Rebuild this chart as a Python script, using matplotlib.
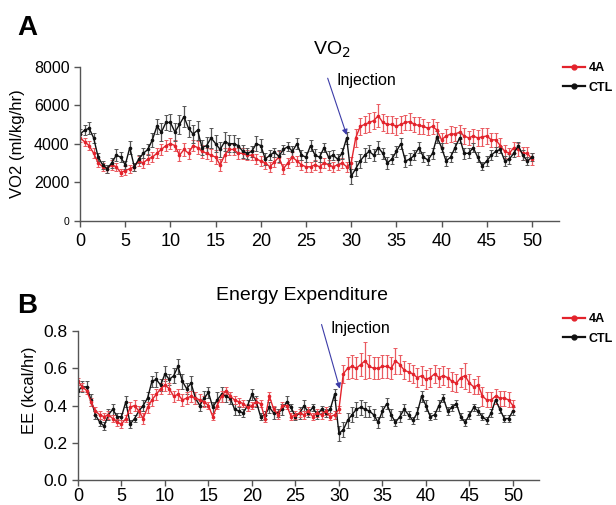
import numpy as np
import matplotlib
matplotlib.use("Agg")
import matplotlib.pyplot as plt
from matplotlib.lines import Line2D

plt.rcParams['font.family'] = ['Liberation Sans', 'DejaVu Sans']

# time axis (hours), one point every half hour
hours = np.arange(0, 50.01, 0.5)

# VO2 (ml/kg/hr), rows of 10 points = 5 h
vo2_ctl = [
    4500, 4700, 4800, 4300, 3300, 2900, 2700, 3000, 3400, 3300,
    2900, 3800, 2800, 3200, 3500, 3700, 4200, 4900, 4600, 5100,
    5100, 4600, 5000, 5400, 4800, 4500, 4700, 3800, 3900, 4300,
    4000, 3700, 4100, 4000, 4000, 3900, 3600, 3500, 3600, 4000,
    3900, 3200, 3400, 3550, 3350, 3700, 3850, 3600, 4000, 3400,
    3300, 3900, 3400, 3300, 3800, 3300, 3400, 3200, 3500, 4300,
    2300, 2700, 3100, 3400, 3600, 3400, 3800, 3500, 3000, 3200,
    3600, 4000, 3100, 3200, 3400, 3800, 3300, 3150, 3500, 4350,
    3800, 3100, 3300, 3800, 4300, 3500, 3500, 3800, 3300, 2850,
    3100, 3400, 3600, 3700, 3100, 3200, 3500, 3900, 3400, 3100,
    3300]
vo2_ctl_err = [
    250, 250, 300, 250, 200, 200, 200, 250, 300, 250,
    200, 350, 200, 200, 250, 300, 350, 400, 450, 400,
    450, 450, 500, 550, 450, 450, 500, 400, 450, 500,
    450, 400, 500, 450, 450, 400, 350, 300, 300, 400,
    350, 300, 250, 250, 300, 250, 250, 300, 300, 250,
    250, 300, 300, 250, 250, 300, 250, 250, 300, 300,
    400, 400, 350, 350, 350, 300, 350, 300, 300, 250,
    300, 300, 300, 300, 250, 300, 250, 250, 300, 300,
    250, 250, 250, 250, 250, 300, 250, 250, 250, 200,
    250, 250, 250, 200, 250, 250, 200, 200, 250, 200,
    200]
vo2_4a = [
    4300, 4100, 3900, 3500, 3000, 2800, 2700, 2900, 2800, 2500,
    2600, 2700, 2800, 3100, 3000, 3200, 3300, 3500, 3700, 3900,
    4000, 3900, 3400, 3700, 3500, 3900, 3800, 3600, 3500, 3400,
    3300, 2900, 3400, 3700, 3700, 3500, 3500, 3400, 3400, 3200,
    3100, 3000, 2800, 3050, 3300, 2700, 3000, 3300, 3100, 2900,
    2800, 2800, 2900, 2800, 3000, 2900, 2800, 2900, 3000, 2800,
    3000, 4300, 4900, 5000, 5100, 5200, 5450, 5100, 5000, 5000,
    4900, 5000, 5100, 5150, 5000, 4950, 4900, 4800, 4900, 4700,
    4200, 4400, 4500, 4500, 4600, 4400, 4300, 4400, 4300, 4350,
    4400, 4200, 4200, 3900, 3600, 3500, 3800, 3700, 3500, 3500,
    3200]
vo2_4a_err = [
    200, 200, 250, 250, 200, 200, 200, 250, 200, 200,
    250, 200, 200, 250, 250, 250, 250, 250, 300, 300,
    300, 300, 300, 350, 300, 300, 350, 350, 300, 300,
    350, 300, 350, 300, 300, 300, 300, 250, 250, 250,
    250, 300, 250, 250, 300, 250, 250, 250, 250, 250,
    250, 250, 250, 250, 250, 250, 250, 250, 250, 250,
    300, 450, 450, 450, 500, 450, 600, 450, 450, 450,
    450, 450, 400, 450, 400, 450, 400, 350, 400, 400,
    350, 350, 400, 350, 350, 400, 350, 350, 400, 450,
    400, 350, 350, 400, 350, 300, 300, 350, 350, 350,
    300]

# energy expenditure (kcal/hr)
ee_ctl = [
    .48, .50, .50, .43, .35, .31, .29, .35, .38, .34,
    .34, .42, .30, .33, .37, .40, .44, .53, .54, .51,
    .57, .54, .56, .61, .53, .49, .52, .44, .40, .44,
    .47, .39, .43, .46, .45, .44, .38, .37, .36, .40,
    .46, .42, .34, .35, .39, .36, .36, .38, .42, .39,
    .34, .36, .40, .36, .39, .35, .38, .36, .38, .46,
    .25, .27, .32, .35, .38, .39, .38, .37, .35, .31,
    .37, .41, .35, .31, .34, .38, .35, .32, .36, .45,
    .40, .34, .35, .40, .44, .37, .39, .41, .34, .31,
    .35, .39, .37, .34, .32, .36, .43, .38, .33, .33,
    .37]
ee_ctl_err = [
    .03, .03, .03, .03, .02, .02, .02, .03, .03, .02,
    .02, .03, .02, .02, .03, .03, .03, .03, .04, .03,
    .04, .03, .04, .04, .04, .03, .04, .03, .03, .04,
    .03, .03, .04, .04, .03, .03, .03, .02, .02, .03,
    .03, .03, .02, .02, .03, .03, .02, .03, .03, .02,
    .02, .03, .03, .02, .02, .02, .02, .02, .02, .03,
    .04, .04, .04, .04, .04, .04, .04, .03, .03, .03,
    .03, .03, .03, .02, .03, .03, .02, .02, .03, .03,
    .03, .02, .02, .03, .02, .02, .02, .02, .02, .02,
    .02, .02, .02, .02, .02, .02, .02, .02, .02, .02,
    .02]
ee_4a = [
    .53, .50, .48, .42, .37, .35, .34, .35, .33, .31,
    .30, .33, .39, .40, .37, .33, .39, .43, .46, .49,
    .51, .49, .45, .46, .43, .44, .45, .44, .43, .42,
    .40, .34, .40, .45, .48, .45, .43, .42, .41, .39,
    .40, .42, .41, .33, .45, .38, .35, .40, .40, .34,
    .35, .36, .35, .37, .34, .36, .35, .37, .34, .35,
    .38, .57, .60, .61, .60, .62, .64, .61, .60, .60,
    .61, .61, .60, .64, .62, .59, .58, .57, .55, .56,
    .54, .55, .57, .55, .56, .55, .53, .52, .55, .56,
    .52, .50, .51, .45, .43, .43, .45, .44, .44, .43,
    .40]
ee_4a_err = [
    .02, .02, .02, .02, .02, .02, .02, .02, .02, .02,
    .02, .02, .03, .03, .03, .03, .03, .03, .03, .03,
    .03, .03, .03, .03, .03, .03, .03, .03, .03, .03,
    .02, .02, .02, .03, .02, .02, .02, .02, .02, .02,
    .02, .02, .02, .02, .02, .02, .02, .02, .02, .02,
    .02, .02, .02, .02, .02, .02, .02, .02, .02, .02,
    .02, .05, .06, .06, .06, .06, .10, .06, .06, .06,
    .06, .06, .06, .07, .05, .05, .05, .05, .05, .05,
    .05, .05, .05, .05, .05, .05, .05, .05, .05, .07,
    .05, .04, .05, .05, .04, .04, .04, .04, .04, .04,
    .03]

xticks = [0, 5, 10, 15, 20, 25, 30, 35, 40, 45, 50]
vo2_ticks = [0, 2000, 4000, 6000, 8000]
ee_ticks = [0.0, 0.2, 0.4, 0.6, 0.8]
ee_ticklabels = ['0.0', '0.2', '0.4', '0.6', '0.8']

RED = '#e3232c'
BLACK = '#111111'
AXCOL = '#555555'


def draw_series(ax, y, err, color, ecolor):
    ax.errorbar(hours, y, yerr=err, color=color, ecolor=ecolor,
                elinewidth=0.9, capsize=1.3, capthick=0.7,
                marker='o', markersize=1.6, linewidth=1.0)


def style_axes(ax, xpad):
    for side in ['top', 'right']:
        ax.spines[side].set_visible(False)
    for side in ['left', 'bottom']:
        ax.spines[side].set_color(AXCOL)
        ax.spines[side].set_linewidth(1.0)
    ax.tick_params(direction='out', length=4, width=1.0, color=AXCOL)
    ax.tick_params(axis='x', labelsize=13, pad=xpad)
    ax.set_xlim(0, 53)
    ax.set_xticks(xticks)


def add_legend(ax, top):
    handles = [Line2D([], [], color=RED, marker='o', markersize=3.5, lw=1.6),
               Line2D([], [], color=BLACK, marker='o', markersize=3.5, lw=1.6)]
    ax.legend(handles, ['4A', 'CTL'], loc='upper left',
              bbox_to_anchor=(0.914, top), bbox_transform=ax.figure.transFigure,
              frameon=False, borderpad=0, borderaxespad=0, handlelength=1.75,
              handletextpad=0.3, labelspacing=0.6,
              prop={'weight': 'bold', 'size': 9})


fig = plt.figure(figsize=(6.16, 5.05), dpi=100)

# panel A - VO2
ax1 = fig.add_axes([0.13, 0.563, 0.7775, 0.305])
draw_series(ax1, vo2_4a, vo2_4a_err, RED, '#ea5a60')
draw_series(ax1, vo2_ctl, vo2_ctl_err, BLACK, '#555555')
style_axes(ax1, 5)
ax1.set_ylim(0, 8000)
ax1.set_yticks(vo2_ticks)
ax1.tick_params(axis='y', labelsize=11.5)
ax1.get_yticklabels()[0].set_fontsize(7.5)
ax1.set_ylabel('VO2 (ml/kg/hr)', fontsize=12)
ax1.yaxis.set_label_coords(-0.115, 0.5)
ax1.annotate('', xy=(29.5, 4450), xytext=(27.4, 7400), annotation_clip=False,
             arrowprops=dict(arrowstyle='-|>', color='#3c3ca8', lw=0.8,
                             mutation_scale=8, shrinkA=0, shrinkB=0))
ax1.text(28.4, 7300, 'Injection', fontsize=11.5, va='center', ha='left')
add_legend(ax1, 0.877)

# panel B - energy expenditure
ax2 = fig.add_axes([0.1266, 0.0495, 0.7484, 0.295])
draw_series(ax2, ee_ctl, ee_ctl_err, BLACK, '#555555')
draw_series(ax2, ee_4a, ee_4a_err, RED, '#ea5a60')
style_axes(ax2, 1.5)
ax2.set_ylim(0, 0.8)
ax2.set_yticks(ee_ticks)
ax2.set_yticklabels(ee_ticklabels)
ax2.tick_params(axis='y', labelsize=12.5)
ax2.set_ylabel('EE (kcal/hr)', fontsize=12)
ax2.yaxis.set_label_coords(-0.089, 0.6)
ax2.annotate('', xy=(30.1, 0.49), xytext=(28.0, 0.835), annotation_clip=False,
             arrowprops=dict(arrowstyle='-|>', color='#3c3ca8', lw=0.8,
                             mutation_scale=8, shrinkA=0, shrinkB=0))
ax2.text(29.0, 0.816, 'Injection', fontsize=11.5, va='center', ha='left')
add_legend(ax2, 0.380)

# titles and panel letters
fig.text(332 / 616, 1 - 50 / 505, 'VO$_2$', fontsize=14, ha='center', va='center')
fig.text(302 / 616, 1 - 296 / 505, 'Energy Expenditure', fontsize=14,
         ha='center', va='center')
fig.text(17 / 616, 1 - 28 / 505, 'A', fontsize=20, fontweight='bold', va='center')
fig.text(17 / 616, 1 - 306 / 505, 'B', fontsize=20, fontweight='bold', va='center')

fig.savefig('out.png', dpi=100)
